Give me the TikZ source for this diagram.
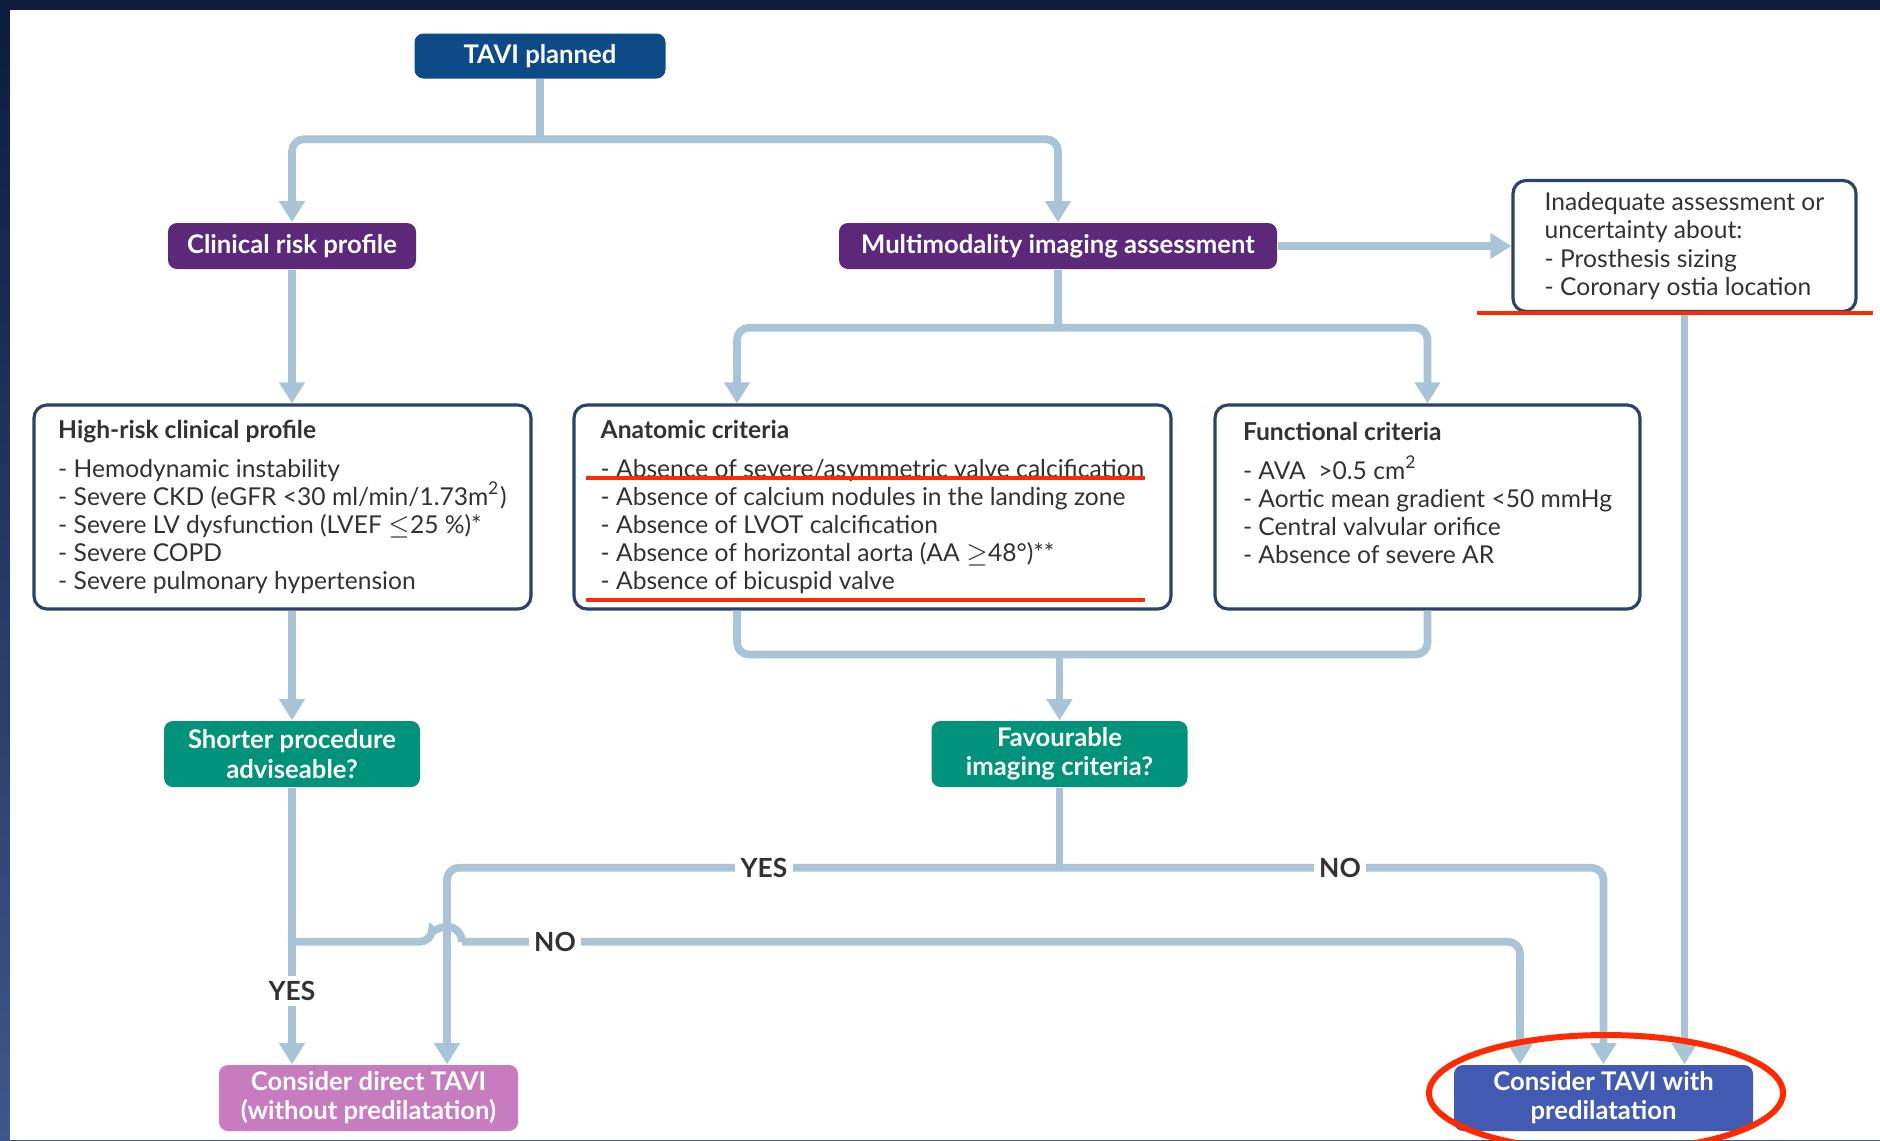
\documentclass[tikz,border=0pt]{standalone}
\usepackage{fontspec}
\setmainfont{Lato}
\usepackage{tikz}
\usetikzlibrary{shapes.geometric, arrows.meta, positioning}

\definecolor{navy}{RGB}{12,28,62}
\definecolor{slate}{RGB}{62,86,140}
\definecolor{flow}{RGB}{168,196,214}
\definecolor{boxline}{RGB}{44,66,104}
\definecolor{txt}{RGB}{50,50,50}
\definecolor{tavic}{RGB}{14,74,134}
\definecolor{purp}{RGB}{92,40,122}
\definecolor{teal}{RGB}{0,146,122}
\definecolor{pinkc}{RGB}{200,124,192}
\definecolor{bluec}{RGB}{66,90,178}
\definecolor{redmark}{RGB}{255,42,0}

\begin{document}
\begin{tikzpicture}
    \tikzstyle{tavibox} = [rectangle, rounded corners=0.09cm, minimum width=2.51cm, minimum height=0.45cm, inner sep=0.05cm, fill=tavic, text=white, font=\bfseries\fontsize{7.3}{8.3}\selectfont]
\tikzstyle{purplebox} = [tavibox, fill=purp, minimum height=0.46cm]
\tikzstyle{askbox} = [tavibox, fill=teal, minimum width=2.56cm, minimum height=0.66cm, align=center]
\tikzstyle{endbox} = [askbox, minimum width=2.99cm]
\tikzstyle{infobox} = [rectangle, rounded corners=0.13cm, draw=boxline, line width=0.9pt, fill=white, align=left, text=txt, minimum height=2.04cm, inner sep=0.1cm, font=\fontsize{7}{8}\selectfont]
\tikzstyle{line} = [draw=flow, line width=2.2pt, rounded corners=0.12cm]
\tikzstyle{arrow} = [line, -{Triangle[width=7pt,length=6pt]}]
\tikzstyle{lab} = [fill=white, inner sep=1.5pt, text=txt, font=\bfseries\fontsize{7.5}{8}\selectfont]
\tikzstyle{redline} = [draw=redmark, line width=1.4pt]
    % frame
    \fill[top color=navy, bottom color=slate] (0,0) rectangle (18.8,-11.4);
    \fill[white] (0.1,-0.1) rectangle (18.8,-11.4);
    \useasboundingbox (0,0) rectangle (18.8,-11.4);

    \node (tavi) [tavibox] at (5.40,-0.56) {TAVI planned};
\node (clin) [purplebox, minimum width=2.48cm, below of=tavi, xshift=-2.48cm, yshift=-0.9cm] {Clinical risk profile};
\node (multi) [purplebox, minimum width=4.38cm, right of=clin, xshift=6.66cm] {Multimodality imaging assessment};
\node (inad) [infobox, minimum width=3.43cm, minimum height=1.31cm, right of=multi, xshift=5.265cm] {Inadequate assessment or\\ uncertainty about:\\ - Prosthesis sizing\\ - Coronary ostia location};
\node (high) [infobox, minimum width=4.97cm, below of=clin, xshift=-0.095cm, yshift=-1.61cm] {\textbf{High-risk clinical profile}\\[3pt]
 - Hemodynamic instability\\ - Severe CKD (eGFR <30 ml/min/1.73m\textsuperscript{2})\\ - Severe LV dysfunction (LVEF $\leq$25 \%)*\\ - Severe COPD\\ - Severe pulmonary hypertension};
\node (anat) [infobox, minimum width=5.97cm, right of=high, xshift=4.9cm] {\textbf{Anatomic criteria}\\[3pt]
 - Absence of severe/asymmetric valve calcification\\ - Absence of calcium nodules in the landing zone\\ - Absence of LVOT calcification\\ - Absence of horizontal aorta (AA $\geq$48°)**\\ - Absence of bicuspid valve};
\node (func) [infobox, minimum width=4.25cm, right of=anat, xshift=4.55cm] {\textbf{Functional criteria}\\[3pt]
 - AVA \ >0.5 cm\textsuperscript{2}\\ - Aortic mean gradient <50 mmHg\\ - Central valvular orifice\\ - Absence of severe AR\\ ~};
\node (short) [askbox, below of=high, xshift=0.095cm, yshift=-1.47cm] {Shorter procedure\\ adviseable?};
\node (fav) [askbox, right of=short, xshift=6.675cm] {Favourable\\ imaging criteria?};
\node (direct) [endbox, fill=pinkc, below of=short, xshift=0.765cm, yshift=-2.44cm] {Consider direct TAVI\\ (without predilatation)};
\node (predil) [endbox, fill=bluec, right of=direct, xshift=11.35cm] {Consider TAVI with\\ predilatation};

    % top branches
    \coordinate (j1) at ([yshift=-0.6cm]tavi.south);
\draw[line] (tavi.south) -- (j1);
\draw[arrow] (j1) -| (clin.north);
\draw[arrow] (j1) -| (multi.north);
\draw[arrow] (clin.south) -- (clin.south |- high.north);
\draw[arrow] (multi.east) -- (inad.west);
\coordinate (j2) at ([yshift=-0.58cm]multi.south);
\draw[line] (multi.south) -- (j2);
\draw[arrow] (j2) -| ([xshift=-1.355cm]anat.north);
\draw[arrow] (j2) -| (func.north);

    % criteria to questions
    \draw[arrow] (short.north |- high.south) -- (short.north);
\draw[line] ([xshift=-1.355cm]anat.south) -- ++(0,-0.44) -| (func.south);
\coordinate (j3) at ([yshift=0.68cm]fav.north);
\draw[arrow] (j3) -- (fav.north);

    % imaging answer
    \coordinate (j4) at ([yshift=-0.8cm]fav.south);
\draw[line] (fav.south) -- (j4);
\draw[arrow] (j4) -| ([xshift=0.785cm]direct.north);
\draw[arrow] (j4) -| (predil.north);
\node (yesA) [lab] at ([xshift=-2.955cm]j4) {YES};
\node (noA) [lab] at ([xshift=2.805cm]j4) {NO};

    % procedure answer
    \coordinate (j5) at ([yshift=-1.54cm]short.south);
\coordinate (dirR) at ([xshift=0.785cm]direct.north);
\coordinate (hop) at (j5 -| dirR);
\draw[arrow] (short.south) -- (short.south |- direct.north);
\draw[line] (j5) -- ([xshift=-0.15cm]hop) arc[start angle=180, end angle=0, radius=0.15cm];
\draw[arrow] ([xshift=0.15cm]hop) -| ([xshift=-0.835cm]predil.north);
\node (noB) [lab] at ([xshift=1.08cm]hop) {NO};
\node (yesB) [lab] at ([yshift=-2.03cm]short.south) {YES};

    \draw[arrow] (inad.south) -- (inad.south |- predil.north);

    % red marks
    \draw[redline] (5.86,-4.78) -- (11.45,-4.78);
\draw[redline] (5.86,-6.00) -- (11.45,-6.00);
\draw[redline] (14.77,-3.13) -- (18.73,-3.13);
\draw[redline, line width=1.7pt] (16.06,-10.93) ellipse [x radius=1.77cm, y radius=0.58cm];
  \end{tikzpicture}
\end{document}
